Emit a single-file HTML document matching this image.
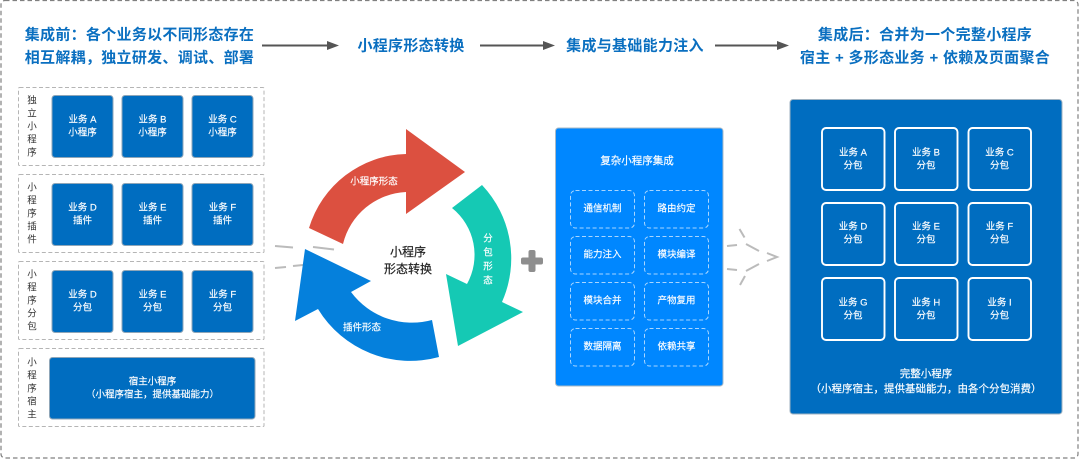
<!DOCTYPE html>
<html lang="zh"><head><meta charset="utf-8"><title>小程序集成</title>
<style>
html,body{margin:0;padding:0;background:#fff;width:1080px;height:459px;overflow:hidden}
svg{display:block}
text{font-family:"Liberation Sans","Noto Sans CJK SC",sans-serif;text-anchor:middle;dominant-baseline:central}
.h{font-size:15px;font-weight:700;fill:#0a6fc0;letter-spacing:.3px}
.t{font-size:9.5px;fill:#fff;stroke:#fff;stroke-width:.15px}
.v{font-size:9.5px;fill:#333}
.tile{fill:#006dc0;stroke:#8fa6b8;stroke-width:1}
.dash{fill:none;stroke:#b5b5b5;stroke-width:1;stroke-dasharray:4 2.5}
.cell{fill:none;stroke:#a9d6ff;stroke-width:1;stroke-dasharray:4 2.5}
.sub{fill:none;stroke:#fff;stroke-width:1.9}
.g{stroke:#bbb;stroke-width:2;fill:none}
.ar{stroke:#555;stroke-width:2}
</style></head><body>
<svg width="1080" height="459" viewBox="0 0 1080 459" xmlns="http://www.w3.org/2000/svg">
<rect x="1" y="0.5" width="1077" height="457.5" rx="4" fill="none" stroke="#808080" stroke-width="1.2" stroke-dasharray="4.5 3"/>

<text class="h" x="139.5" y="35">集成前&#xFF1A;各个业务以不同形态存在</text>
<text class="h" x="139.5" y="58">相互解耦&#xFF0C;独立研发、调试、部署</text>
<text class="h" x="411" y="46">小程序形态转换</text>
<text class="h" x="635" y="46">集成与基础能力注入</text>
<text class="h" x="925" y="35">集成后&#xFF1A;合并为一个完整小程序</text>
<text class="h" x="925" y="58">宿主 + 多形态业务 + 依赖及页面聚合</text>

<line class="ar" x1="262" y1="45.5" x2="328" y2="45.5"/><polygon points="327,41 339,45.5 327,50" fill="#555"/>
<line class="ar" x1="480" y1="45.5" x2="544" y2="45.5"/><polygon points="543,41 555,45.5 543,50" fill="#555"/>
<line class="ar" x1="715" y1="45.5" x2="778" y2="45.5"/><polygon points="777,41 789,45.5 777,50" fill="#555"/>

<!-- left rows -->
<rect class="dash" x="18.5" y="87.5" width="245.5" height="78" rx="1"/>
<rect class="dash" x="18.5" y="174.5" width="245.5" height="78" rx="1"/>
<rect class="dash" x="18.5" y="261.5" width="245.5" height="78" rx="1"/>
<rect class="dash" x="18.5" y="348.5" width="245.5" height="78" rx="1"/>

<text class="v" x="32" y="101">独</text><text class="v" x="32" y="114">立</text><text class="v" x="32" y="127">小</text><text class="v" x="32" y="140">程</text><text class="v" x="32" y="153">序</text>
<text class="v" x="32" y="188">小</text><text class="v" x="32" y="201">程</text><text class="v" x="32" y="214">序</text><text class="v" x="32" y="227">插</text><text class="v" x="32" y="240">件</text>
<text class="v" x="32" y="275">小</text><text class="v" x="32" y="288">程</text><text class="v" x="32" y="301">序</text><text class="v" x="32" y="314">分</text><text class="v" x="32" y="327">包</text>
<text class="v" x="32" y="363">小</text><text class="v" x="32" y="376">程</text><text class="v" x="32" y="389">序</text><text class="v" x="32" y="402">宿</text><text class="v" x="32" y="415">主</text>

<rect class="tile" x="52" y="95.5" width="61" height="62" rx="3"/><rect class="tile" x="122" y="95.5" width="61" height="62" rx="3"/><rect class="tile" x="192" y="95.5" width="61" height="62" rx="3"/>
<rect class="tile" x="52" y="183.5" width="61" height="62" rx="3"/><rect class="tile" x="122" y="183.5" width="61" height="62" rx="3"/><rect class="tile" x="192" y="183.5" width="61" height="62" rx="3"/>
<rect class="tile" x="52" y="270.5" width="61" height="62" rx="3"/><rect class="tile" x="122" y="270.5" width="61" height="62" rx="3"/><rect class="tile" x="192" y="270.5" width="61" height="62" rx="3"/>
<rect class="tile" x="49.5" y="357.5" width="205.5" height="61.5" rx="3"/>

<text class="t" x="82.5" y="120">业务 A</text><text class="t" x="82.5" y="133">小程序</text>
<text class="t" x="152.5" y="120">业务 B</text><text class="t" x="152.5" y="133">小程序</text>
<text class="t" x="222.5" y="120">业务 C</text><text class="t" x="222.5" y="133">小程序</text>
<text class="t" x="82.5" y="208">业务 D</text><text class="t" x="82.5" y="221">插件</text>
<text class="t" x="152.5" y="208">业务 E</text><text class="t" x="152.5" y="221">插件</text>
<text class="t" x="222.5" y="208">业务 F</text><text class="t" x="222.5" y="221">插件</text>
<text class="t" x="82.5" y="295">业务 D</text><text class="t" x="82.5" y="308">分包</text>
<text class="t" x="152.5" y="295">业务 E</text><text class="t" x="152.5" y="308">分包</text>
<text class="t" x="222.5" y="295">业务 F</text><text class="t" x="222.5" y="308">分包</text>
<text class="t" x="152.5" y="382">宿主小程序</text><text class="t" x="152.5" y="395">&#xFF08;小程序宿主&#xFF0C;提供基础能力&#xFF09;</text>

<!-- left dashes -->
<line class="g" x1="275" y1="246" x2="293" y2="247.5"/><line class="g" x1="313" y1="247" x2="334" y2="249.5"/>
<line class="g" x1="275" y1="268" x2="286" y2="267"/><line class="g" x1="293" y1="266" x2="303" y2="265"/>

<!-- cycle -->
<path d="M309,228 A104,104 0 0 1 406,154 L406,129 L465,172 L406,214 L406,192 A68,68 0 0 0 343,244 Z" fill="#dc5040"/>
<path d="M482,185 A107,107 0 0 1 502,302 L523,312 L458,346 L446,274 L467,284 A60,60 0 0 0 452,208 Z" fill="#15c9b4"/>
<path d="M439,357 A108,108 0 0 1 318,309 L295,321 L305,249 L371,281 L351,292 A76,76 0 0 0 432,320 Z" fill="#0580dc"/>
<text class="t" x="374" y="182">小程序形态</text>
<text class="t" x="362" y="328">插件形态</text>
<text class="t" x="488" y="239">分</text><text class="t" x="488" y="253">包</text><text class="t" x="488" y="267">形</text><text class="t" x="488" y="281">态</text>
<text x="408" y="252" style="font-size:12px;fill:#222;stroke:#222;stroke-width:.2px">小程序</text>
<text x="408" y="269" style="font-size:12px;fill:#222;stroke:#222;stroke-width:.2px">形态转换</text>

<!-- plus -->
<rect x="521" y="257.5" width="22" height="7" rx="2" fill="#8e8e8e"/><rect x="528.5" y="250" width="7" height="22" rx="2" fill="#8e8e8e"/>

<!-- integration panel -->
<rect x="555.5" y="128" width="167.5" height="258" rx="3" fill="#0087ff" stroke="#a9b9c6" stroke-width="1"/>
<text x="637" y="161" style="font-size:10.5px;fill:#fff;stroke:#fff;stroke-width:.15px">复杂小程序集成</text>
<rect class="cell" x="570.5" y="190.5" width="64" height="37.5" rx="5"/><rect class="cell" x="644.5" y="190.5" width="64" height="37.5" rx="5"/>
<rect class="cell" x="570.5" y="236.5" width="64" height="37.5" rx="5"/><rect class="cell" x="644.5" y="236.5" width="64" height="37.5" rx="5"/>
<rect class="cell" x="570.5" y="282.5" width="64" height="37.5" rx="5"/><rect class="cell" x="644.5" y="282.5" width="64" height="37.5" rx="5"/>
<rect class="cell" x="570.5" y="328.5" width="64" height="37.5" rx="5"/><rect class="cell" x="644.5" y="328.5" width="64" height="37.5" rx="5"/>
<text class="t" x="602.5" y="209">通信机制</text><text class="t" x="676.5" y="209">路由约定</text>
<text class="t" x="602.5" y="255">能力注入</text><text class="t" x="676.5" y="255">模块编译</text>
<text class="t" x="602.5" y="301">模块合并</text><text class="t" x="676.5" y="301">产物复用</text>
<text class="t" x="602.5" y="347">数据隔离</text><text class="t" x="676.5" y="347">依赖共享</text>

<!-- right dashes -->
<line class="g" x1="739.5" y1="229" x2="744.5" y2="237.5"/>
<line class="g" x1="727" y1="246" x2="737" y2="245"/>
<line class="g" x1="746" y1="244" x2="759" y2="251"/>
<polyline class="g" points="767,253 777,257 767,261"/>
<line class="g" x1="727" y1="269" x2="737" y2="270"/>
<line class="g" x1="746" y1="271" x2="759" y2="264"/>
<line class="g" x1="740" y1="285" x2="745" y2="276"/>

<!-- complete panel -->
<rect x="790" y="99.5" width="272" height="314.5" rx="3" fill="#006dc0" stroke="#9fb2c1" stroke-width="1"/>
<rect class="sub" x="822" y="128" width="62.5" height="62" rx="4"/><rect class="sub" x="895" y="128" width="62.5" height="62" rx="4"/><rect class="sub" x="968.5" y="128" width="62.5" height="62" rx="4"/>
<rect class="sub" x="822" y="203" width="62.5" height="62" rx="4"/><rect class="sub" x="895" y="203" width="62.5" height="62" rx="4"/><rect class="sub" x="968.5" y="203" width="62.5" height="62" rx="4"/>
<rect class="sub" x="822" y="278" width="62.5" height="62" rx="4"/><rect class="sub" x="895" y="278" width="62.5" height="62" rx="4"/><rect class="sub" x="968.5" y="278" width="62.5" height="62" rx="4"/>
<text class="t" x="853" y="153">业务 A</text><text class="t" x="853" y="166">分包</text>
<text class="t" x="926" y="153">业务 B</text><text class="t" x="926" y="166">分包</text>
<text class="t" x="999.5" y="153">业务 C</text><text class="t" x="999.5" y="166">分包</text>
<text class="t" x="853" y="227">业务 D</text><text class="t" x="853" y="240">分包</text>
<text class="t" x="926" y="227">业务 E</text><text class="t" x="926" y="240">分包</text>
<text class="t" x="999.5" y="227">业务 F</text><text class="t" x="999.5" y="240">分包</text>
<text class="t" x="853" y="303">业务 G</text><text class="t" x="853" y="316">分包</text>
<text class="t" x="926" y="303">业务 H</text><text class="t" x="926" y="316">分包</text>
<text class="t" x="999.5" y="303">业务 I</text><text class="t" x="999.5" y="316">分包</text>
<text x="926" y="374" style="font-size:10.5px;fill:#fff;stroke:#fff;stroke-width:.15px">完整小程序</text>
<text x="926" y="389" style="font-size:10.5px;fill:#fff;stroke:#fff;stroke-width:.15px">&#xFF08;小程序宿主&#xFF0C;提供基础能力&#xFF0C;由各个分包消费&#xFF09;</text>
</svg>
</body></html>
